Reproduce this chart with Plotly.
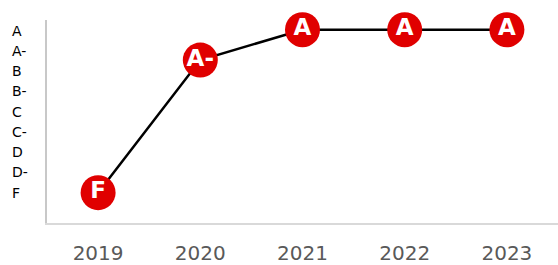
import plotly.graph_objects as go

years = ["2019", "2020", "2021", "2022", "2023"]
scores = [0, 6.55, 8.05, 8.05, 8.05]
grades = ["F", "A-", "A", "A", "A"]
scale_labels = ["F", "D-", "D", "C-", "C", "B-", "B", "A-", "A"]
scale_vals = [0, 1, 2, 3, 4, 5, 6, 7, 8]

fig = go.Figure()
fig.add_trace(go.Scatter(
    x=years, y=scores, mode="lines+markers+text",
    text=grades, textposition="middle center",
    textfont=dict(family="DejaVu Sans", size=23, color="white", weight="bold"),
    line=dict(color="black", width=2.5),
    marker=dict(size=35, color="#E00000", line=dict(width=0)),
    cliponaxis=False, hoverinfo="skip",
))

for v, lab in zip(scale_vals, scale_labels):
    fig.add_annotation(x=0.0, xref="paper", xshift=-37, y=v, yref="y",
                       text=lab, showarrow=False, xanchor="left",
                       font=dict(family="DejaVu Sans", size=14, color="black"))

fig.update_layout(
    width=558, height=265,
    margin=dict(l=47, r=0, t=20, b=42),
    paper_bgcolor="white", plot_bgcolor="white",
    showlegend=False,
    xaxis=dict(type="category", range=[-0.5, 4.5], showgrid=False,
               showline=True, linecolor="#d9d9d9", linewidth=2,
               ticks="outside", ticklen=11, tickcolor="rgba(0,0,0,0)",
               tickfont=dict(family="DejaVu Sans", size=20, color="#595959"),
               zeroline=False, fixedrange=True),
    yaxis=dict(range=[-1.5, 8.53], showgrid=False, zeroline=False,
               showline=True, linecolor="#c8c8c8", linewidth=2,
               showticklabels=False, fixedrange=True),
)

fig.write_html("out.html", config={"displayModeBar": False},
               post_script="document.body.style.margin='0px';document.body.style.overflow='hidden';")
